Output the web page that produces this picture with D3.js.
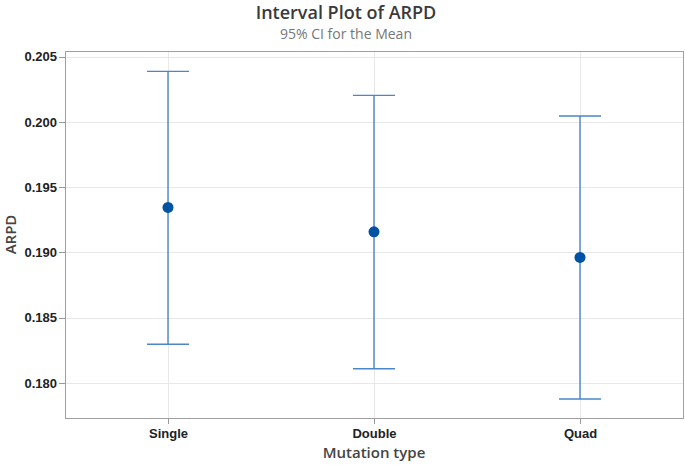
<!DOCTYPE html>
<head>
    <meta charset="utf-8">
    <style>
        body { margin: 0; background: #fff; }
        svg { display: block; font-family: 'Open Sans', sans-serif; }
        .grid line { stroke: #e8e8e8; stroke-width: 1px; shape-rendering: crispEdges; }
        .grid .domain { display: none; }
        .axis .domain { display: none; }
        .axis line { stroke: #999; shape-rendering: crispEdges; }
        .axis text { font-size: 13px; font-weight: 700; fill: #222; }
        .frame { fill: none; stroke: #a0a0a0; stroke-width: 1px; shape-rendering: crispEdges; }
        .ci { stroke: #4a86c8; stroke-width: 1.4px; fill: none; }
        .mean { fill: #0052a5; }
        .title { font-size: 18px; font-weight: 600; fill: #3a3a3a; }
        .subtitle { font-size: 14px; fill: #777; }
        .label { font-size: 15px; font-weight: 600; fill: #444; }
    </style>
</head>
<body>
    <div id="chart"></div>
    <script src="https://d3js.org/d3.v7.min.js"></script>
    <script>
        // interval plot values
        var groups = ["Single", "Double", "Quad"];
        var means = [0.19345, 0.19158, 0.18962];
        var lower = [0.18296, 0.18109, 0.17877];
        var upper = [0.20388, 0.20204, 0.20046];
        var yTicks = [0.180, 0.185, 0.190, 0.195, 0.200, 0.205];

        var W = 685, H = 465;
        var margin = {top: 51, right: 2, bottom: 47, left: 65},
            width = W - margin.left - margin.right,
            height = H - margin.top - margin.bottom;

        var svg = d3.select("#chart").append("svg")
            .attr("width", W)
            .attr("height", H);

        var g = svg.append("g")
            .attr("transform", "translate(" + margin.left + "," + margin.top + ")");

        var x = d3.scalePoint()
            .domain(groups)
            .range([0, width])
            .padding(0.5);

        var y = d3.scaleLinear()
            .domain([0.17731, 0.20544])
            .range([height, 0]);

        // gridlines
        g.append("g")
            .attr("class", "grid")
            .call(d3.axisLeft(y).tickValues(yTicks).tickSize(-width).tickFormat(""));

        g.append("g")
            .attr("class", "grid")
            .call(d3.axisBottom(x).tickSize(height).tickFormat(""));

        // axes
        g.append("g")
            .attr("class", "axis")
            .call(d3.axisLeft(y).tickValues(yTicks).tickSize(6).tickPadding(2).tickFormat(d3.format(".3f")));

        g.append("g")
            .attr("class", "axis")
            .attr("transform", "translate(0," + height + ")")
            .call(d3.axisBottom(x).tickSize(6).tickPadding(5));

        g.append("rect")
            .attr("class", "frame")
            .attr("x", 0)
            .attr("y", 0)
            .attr("width", width)
            .attr("height", height);

        var capHalf = 21;
        var rows = groups.map(function(d, i) {
            return {group: d, mean: means[i], lo: lower[i], hi: upper[i]};
        });

        var ci = g.selectAll(".ci-group")
            .data(rows)
            .enter().append("g");

        ci.append("line")
            .attr("class", "ci")
            .attr("x1", function(d) { return x(d.group); })
            .attr("x2", function(d) { return x(d.group); })
            .attr("y1", function(d) { return y(d.lo); })
            .attr("y2", function(d) { return y(d.hi); });

        ci.append("line")
            .attr("class", "ci")
            .attr("x1", function(d) { return x(d.group) - capHalf; })
            .attr("x2", function(d) { return x(d.group) + capHalf; })
            .attr("y1", function(d) { return y(d.hi); })
            .attr("y2", function(d) { return y(d.hi); });

        ci.append("line")
            .attr("class", "ci")
            .attr("x1", function(d) { return x(d.group) - capHalf; })
            .attr("x2", function(d) { return x(d.group) + capHalf; })
            .attr("y1", function(d) { return y(d.lo); })
            .attr("y2", function(d) { return y(d.lo); });

        ci.append("circle")
            .attr("class", "mean")
            .attr("cx", function(d) { return x(d.group); })
            .attr("cy", function(d) { return y(d.mean); })
            .attr("r", 5.5);

        // titles
        svg.append("text")
            .attr("class", "title")
            .attr("x", 346)
            .attr("y", 19)
            .attr("text-anchor", "middle")
            .text("Interval Plot of ARPD");

        svg.append("text")
            .attr("class", "subtitle")
            .attr("x", 346)
            .attr("y", 39)
            .attr("text-anchor", "middle")
            .text("95% CI for the Mean");

        svg.append("text")
            .attr("class", "label")
            .attr("transform", "translate(16," + (margin.top + height / 2) + ") rotate(-90)")
            .attr("text-anchor", "middle")
            .text("ARPD");

        svg.append("text")
            .attr("class", "label")
            .attr("x", margin.left + width / 2)
            .attr("y", 458)
            .attr("text-anchor", "middle")
            .text("Mutation type");
    </script>
</body>
